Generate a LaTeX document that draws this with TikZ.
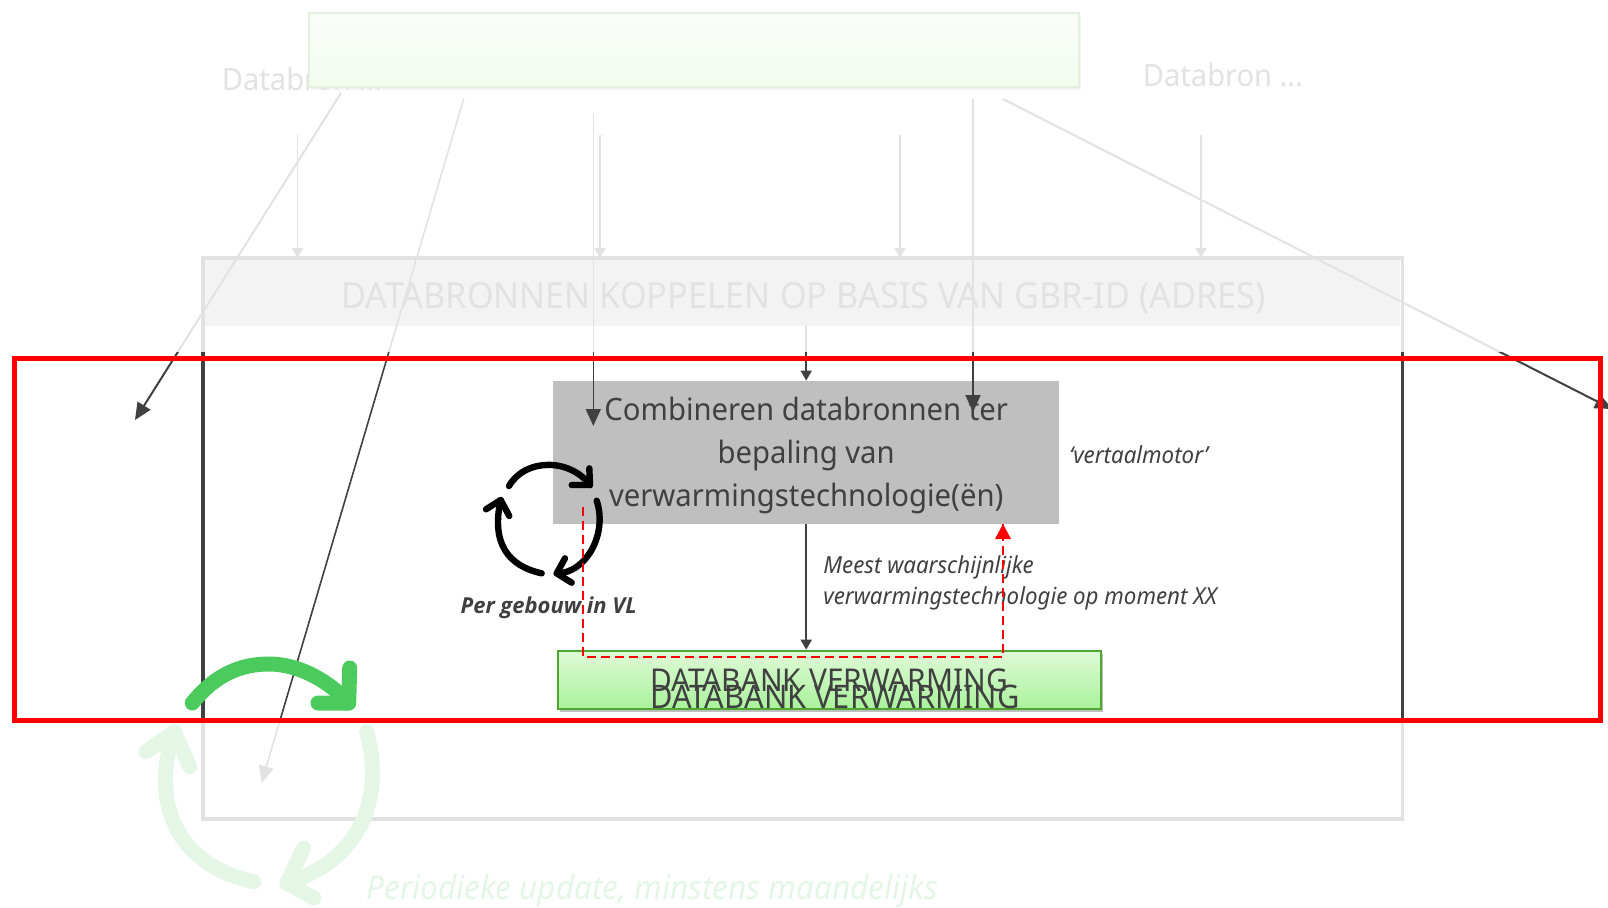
\documentclass[tikz,border=0pt]{standalone}
\usepackage{fontspec}
\setmainfont[FakeStretch=.95]{Noto Sans}
\newfontfamily\boldlabel{Open Sans}
\usetikzlibrary{arrows.meta,shadows,calc}
\definecolor{ink}{HTML}{404040}
\definecolor{greenarrow}{HTML}{4BCB5E}
\definecolor{dbborder}{HTML}{4EA72E}
\definecolor{dbtop}{HTML}{E0F9D8}
\definecolor{dbbottom}{HTML}{A9F29B}
\tikzset{
  lbl/.style={inner sep=0pt,text=ink,font=\fontsize{#1}{#1}\selectfont},
  lbl/.default=15,
  ilbl/.style={inner sep=0pt,text=ink,anchor=west,font=\fontsize{#1}{#1}\selectfont\itshape},
  bigtip/.style={-{Triangle[length=8.5pt,width=7.5pt]}},
  smalltip/.style={-{Triangle[length=5pt,width=5.5pt]}},
  feed/.style={draw=ink,line width=1pt,bigtip},
  thinfeed/.style={draw=ink,line width=.9pt,smalltip},
  dbbox/.style={draw=dbborder,line width=1pt,top color=dbtop,bottom color=dbbottom,inner sep=0pt,
     drop shadow={shadow xshift=1pt,shadow yshift=-1.5pt,opacity=.5}},
  icon/.style={line width=3.2pt,line cap=round,line join=round,draw=black},
  bigicon/.style={line width=7.5pt,line cap=round,line join=round,draw=greenarrow},
  dashedred/.style={draw=red,line width=1pt,dash pattern=on 4.5pt off 2.5pt},
  veil/.style={fill=white,fill opacity=.85,draw=none},
}
\begin{document}
\begin{tikzpicture}[x=.5pt,y=-.5pt]
\useasboundingbox (0,0) rectangle (1608,907);
% labels hidden partly by the top box
\node[lbl=15.3] (srcl) at (302,79) {Databron ...};
\node[lbl=15.3] (srcr) at (1223,75) {Databron ...};
% top box
\node[dbbox,minimum width=385.4pt,minimum height=37pt] (top) at (694,50.2) {};
% frame and band
\fill[fill=black!30] (205,258) rectangle (1400,325.7) coordinate (bandse);
\node[lbl=18] (bandtxt) at (803.5,298) {DATABRONNEN KOPPELEN\hspace{5pt}OP BASIS VAN GBR-ID (ADRES)};
\coordinate (bandbot) at (806.2,325.7);
\draw[ink,line width=1.6pt] (203,258) rectangle (1402.5,819);
% grey box
\node[fill=black!25,inner sep=0pt,minimum width=253.2pt,minimum height=71.5pt,text=ink,align=center,
  font=\fontsize{15.4}{21.5}\selectfont] (grey) at (806.2,452.5) {};
\node[inner sep=0pt,text=ink,align=center,font=\fontsize{15.4}{21.5}\selectfont] (greytxt) at (806.2,455) {Combineren databronnen ter\\bepaling van\\verwarmingstechnologie(ën)};
% database box
\node[dbbox,minimum width=271.5pt,minimum height=29.3pt] (db) at (829,680) {};
\node[lbl=15.7] (dbt1) at (829,680) {DATABANK VERWARMING};
\node[lbl=16.2] (dbt2) at (835,697) {DATABANK VERWARMING};
% connector ends
\coordinate (l1s) at (341,93);   \coordinate (l1e) at (135,420);
\coordinate (l2s) at (463.6,99); \coordinate (l2e) at (261.5,783);
\coordinate (l3s) at (593.3,113);\coordinate (l3e) at (593.3,426);
\coordinate (l8s) at (973,99);   \coordinate (l8e) at (973,412);
\coordinate (l9s) at (1003,99);  \coordinate (l9e) at (1612,409);
\coordinate (a1) at (297.4,135); \coordinate (a2) at (600,135);
\coordinate (a3) at (900,135);   \coordinate (a4) at (1201,135);
\draw[thinfeed] (a1) -- (a1 |- 0,258);
\draw[thinfeed] (a2) -- (a2 |- 0,258);
\draw[thinfeed] (a3) -- (a3 |- 0,258);
\draw[thinfeed] (a4) -- (a4 |- 0,258);
\draw[feed] (l1s) -- (l1e);
\draw[feed,line width=.8pt] (l2s) -- (l2e);
\draw[feed,line width=.8pt] (l3s) -- (l3e);
\draw[feed] (l8s) -- (l8e);
\draw[feed] (l9s) -- (l9e);
\draw[thinfeed] (bandbot) -- (grey.north);
\draw[thinfeed] (grey.south) -- (grey.south |- db.north);
% small cycle icon
\draw[icon] (509,486) .. controls (525,458) and (570,458) .. (590,485);
\draw[icon] (589.3,468.3) -- (590,485) -- (571.7,485);
\draw[icon] (596.7,500.7) .. controls (608,535) and (585,573.7) .. (556.7,573.3);
\draw[icon] (565,558.3) -- (556.7,573.3) -- (571.7,582.7);
\draw[icon] (541.7,573.3) .. controls (508,566) and (491,543) .. (500.7,500);
\draw[icon] (486,509.3) -- (500.7,500) -- (509.3,516);
% labels
\node[inner sep=0pt,text=ink,font=\boldlabel\fontsize{11}{11}\selectfont\bfseries\itshape] (perg) at (548.7,608) {Per gebouw in VL};
\node[ilbl=11.74] (vm) at (1069,454.5) {‘vertaalmotor’};
\node[ilbl=11.74] (m1) at (823,567.5) {Meest waarschijnlijke};
\node[ilbl=11.74] (m2) at (823,598.5) {verwarmingstechnologie op moment XX};
% red dashed return
\coordinate (rs) at (583,506.7);
\coordinate (re) at (1003,524);
\draw[dashedred] (rs) -- (rs |- 0,656.7) -- (re |- 0,656.7) -- (re);
\fill[red] (re) -- ++(-8,15) -- ++(16,0) -- cycle;
% large green cycle
\draw[bigicon] (192.3,703) .. controls (215,675) and (240,664) .. (269,664) .. controls (300,664) and (330,682) .. (348.7,703);
\draw[bigicon] (349.7,668) -- (348.7,703) -- (318,703);
\draw[bigicon] (366.7,731.7) .. controls (385,800) and (360,860) .. (287,883);
\draw[bigicon] (303.6,848) -- (287,883) -- (313.8,898);
\draw[bigicon] (253.8,881.7) .. controls (175,865) and (150,800) .. (174.4,731.7);
\draw[bigicon] (146,751.7) -- (174.4,731.7) -- (189.7,766.7);
\node[ilbl=16.6,text=greenarrow] (upd) at (366,891) {Periodieke update, minstens maandelijks};
% veils outside the highlighted band
\fill[veil] (0,0) rectangle (1608,352);
\fill[veil] (0,723) rectangle (1608,907);
% highlight rectangle
\draw[red,line width=2.5pt] (14.4,358.7) rectangle (1600.4,720.7);
\end{tikzpicture}
\end{document}
